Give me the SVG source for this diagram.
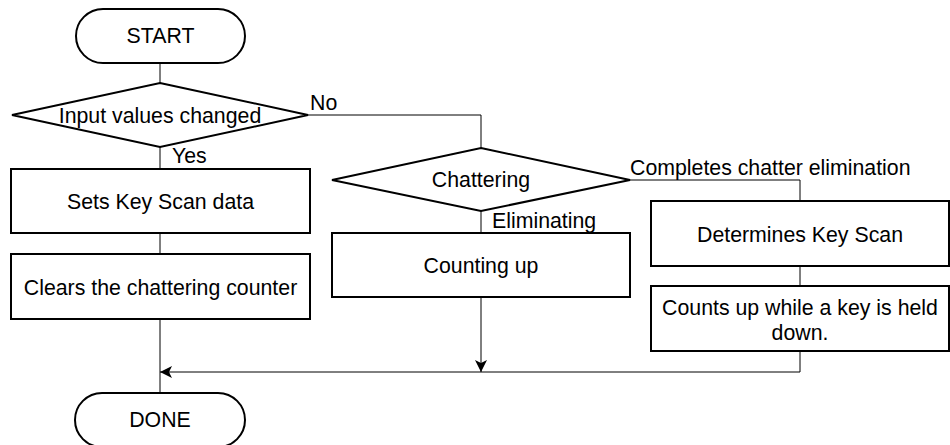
<svg xmlns="http://www.w3.org/2000/svg" width="950" height="445" viewBox="0 0 950 445">
<style>
.shape{fill:#fff;stroke:#000;stroke-width:2}
.conn{fill:none;stroke:#000;stroke-width:1}
text{font-family:"Liberation Sans",Arial,sans-serif;font-size:21.3px;fill:#000}
.c{text-anchor:middle}
</style>
<defs>
<marker id="arr" viewBox="0 0 12 12" refX="12" refY="6" markerWidth="12" markerHeight="12" markerUnits="userSpaceOnUse" orient="auto">
<path d="M0,0 L12,6 L0,12 L3,6 Z" fill="#000"/>
</marker>
</defs>
<rect width="950" height="445" fill="#fff"/>
<g id="connectors">
<line class="conn" x1="160" y1="63" x2="160" y2="83"/>
<line class="conn" x1="160" y1="147" x2="160" y2="169"/>
<line class="conn" x1="160" y1="233" x2="160" y2="254"/>
<line class="conn" x1="160" y1="319" x2="160" y2="393"/>
<polyline class="conn" points="308,115 481,115 481,148"/>
<line class="conn" x1="481" y1="211" x2="481" y2="233"/>
<line class="conn" x1="481" y1="297" x2="481" y2="372" marker-end="url(#arr)"/>
<polyline class="conn" points="630,180 800,180 800,201"/>
<line class="conn" x1="800" y1="266" x2="800" y2="286"/>
<polyline class="conn" points="800,351 800,372 160,372" marker-end="url(#arr)"/>
<text x="310" y="110">No</text>
<text x="172" y="163">Yes</text>
<text x="492" y="228">Eliminating</text>
<text x="630" y="175">Completes chatter elimination</text>
</g>
<g id="start">
<rect class="shape" x="76" y="9" width="169" height="54" rx="27" ry="27"/>
<text class="c" x="160.5" y="43">START</text>
</g>
<g id="input-changed">
<polygon class="shape" points="160,83 308,115 160,147 12,115"/>
<text class="c" x="160" y="123">Input values changed</text>
</g>
<g id="sets-key-scan">
<rect class="shape" x="11" y="169" width="299" height="64"/>
<text class="c" x="160.5" y="209">Sets Key Scan data</text>
</g>
<g id="clears-counter">
<rect class="shape" x="11" y="254" width="299" height="65"/>
<text class="c" x="160.5" y="295">Clears the chattering counter</text>
</g>
<g id="chattering">
<polygon class="shape" points="481,148 630,180 481,211 332,180"/>
<text class="c" x="481" y="187">Chattering</text>
</g>
<g id="counting-up">
<rect class="shape" x="332" y="233" width="298" height="64"/>
<text class="c" x="481" y="273">Counting up</text>
</g>
<g id="determines">
<rect class="shape" x="651" y="201" width="298" height="65"/>
<text class="c" x="800" y="242">Determines Key Scan</text>
</g>
<g id="counts-held">
<rect class="shape" x="651" y="286" width="298" height="65"/>
<text class="c" x="800" y="315">Counts up while a key is held</text>
<text class="c" x="800" y="340">down.</text>
</g>
<g id="done">
<rect class="shape" x="75" y="393" width="170" height="54" rx="27" ry="27"/>
<text class="c" x="160" y="427">DONE</text>
</g>
</svg>
